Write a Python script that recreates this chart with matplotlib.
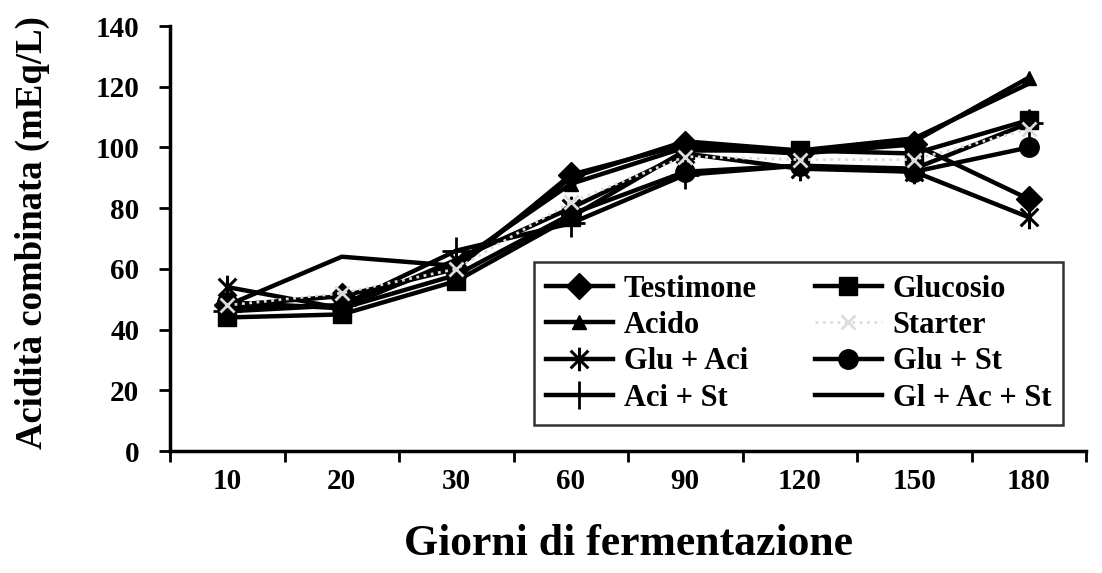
import matplotlib
matplotlib.use("Agg")
from matplotlib import pyplot as plt
from matplotlib.path import Path

giorni = ["10", "20", "30", "60", "90", "120", "150", "180"]

testimone = [48, 51, 60, 91, 101, 98, 101, 83]
glucosio = [44, 45, 56, 77, 99, 99, 98, 109]
acido = [47, 48, 62, 88, 100, 98, 102, 123]
starter = [48, 52, 60, 82, 97, 96, 96, 106]
glu_aci = [54, 47, 63, 80, 98, 93, 92, 77]
glu_st = [49, 47, 58, 78, 92, 94, 92, 100]
aci_st = [46, 48, 66, 75, 91, 94, 93, 108]
gl_ac_st = [48, 64, 61, 90, 102, 99, 103, 121]

plt.rcParams['font.family'] = ['Liberation Serif', 'DejaVu Serif']
plt.rcParams['font.weight'] = 'bold'

# asterisk: vertical bar plus an X
d = 0.75
asterisk = Path([(0, -1), (0, 1), (-d, -d), (d, d), (-d, d), (d, -d)],
                [Path.MOVETO, Path.LINETO] * 3)

fig = plt.figure(figsize=(11.02, 5.73), dpi=100)
ax = fig.add_axes([0.1543, 0.2129, 0.8312, 0.7417])

x = list(range(len(giorni)))
lw = 3.2
h_test, = ax.plot(x, testimone, color='black', lw=lw, marker='D', ms=13, label='Testimone')
h_gluc, = ax.plot(x, glucosio, color='black', lw=lw, marker='s', ms=13, label='Glucosio')
h_acid, = ax.plot(x, acido, color='black', lw=lw, marker='^', ms=10, label='Acido')
h_gaci, = ax.plot(x, glu_aci, color='black', lw=lw, marker=asterisk, ms=17, mew=2.2, label='Glu + Aci')
h_gst, = ax.plot(x, glu_st, color='black', lw=lw, marker='o', ms=14, label='Glu + St')
h_ast, = ax.plot(x, aci_st, color='black', lw=lw, marker='+', ms=20, mew=2, label='Aci + St')
h_gas, = ax.plot(x, gl_ac_st, color='black', lw=lw, label='Gl + Ac + St')
h_star, = ax.plot(x, starter, color='#dcdcdc', lw=2, ls=':', marker='x', ms=10, mew=2,
                  label='Starter', zorder=5)

ax.set_xlim(-0.5, len(giorni) - 0.5)
ax.set_ylim(0, 140)
ax.set_yticks(range(0, 141, 20))

# major ticks at category boundaries, labels on minor ticks
ax.set_xticks([i - 0.5 for i in range(len(giorni) + 1)])
ax.set_xticklabels([])
ax.set_xticks(x, minor=True)
ax.set_xticklabels(giorni, minor=True)
ax.tick_params(axis='x', which='major', length=8, width=2, direction='out')
ax.tick_params(axis='x', which='minor', length=0, pad=12, labelsize=21)
ax.tick_params(axis='y', length=8, width=2, direction='out', pad=14, labelsize=21)

for s in ['top', 'right']:
    ax.spines[s].set_visible(False)
for s in ['left', 'bottom']:
    ax.spines[s].set_linewidth(2.5)

ax.set_xlabel('Giorni di fermentazione', fontsize=31.5, fontweight='bold', labelpad=21)
ax.set_ylabel('Acidità combinata (mEq/L)', fontsize=26.5, fontweight='bold')
ax.yaxis.set_label_coords(-0.131, 0.515)

# legend filled row-wise like the original
handles = [h_test, h_acid, h_gaci, h_ast, h_gluc, h_star, h_gst, h_gas]
leg = ax.legend(handles=handles, labels=[h.get_label() for h in handles], ncol=2,
                loc='upper left', bbox_to_anchor=(0.3969, 0.444),
                fontsize=22, frameon=True, fancybox=False, edgecolor='black',
                handlelength=2.2, handletextpad=0.35, borderpad=0.4, labelspacing=0.24,
                columnspacing=1.9, borderaxespad=0)
leg.get_frame().set_linewidth(1.8)

plt.savefig('out.png', dpi=100)
